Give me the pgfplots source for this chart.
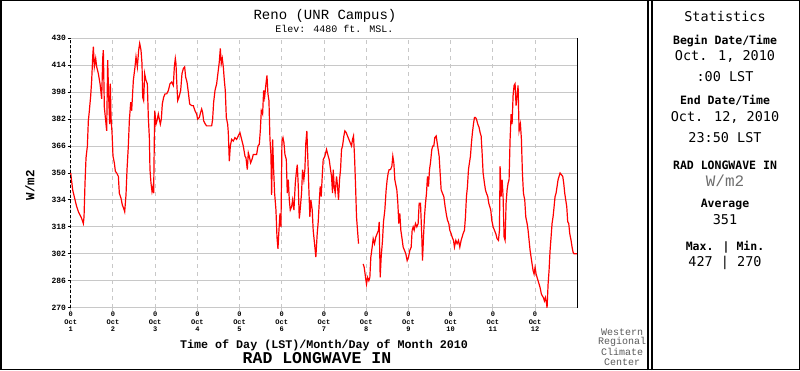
\documentclass[border=0pt]{standalone}
\usepackage{fontspec}
\setmainfont{Liberation Mono}
\setmonofont{Liberation Mono}
\newfontfamily\statfont{DejaVu Sans Mono}
\usepackage{pgfplots}
\pgfplotsset{compat=1.18}
\definecolor{gridgray}{RGB}{200,200,200}
\definecolor{wrcc}{RGB}{90,90,90}
\definecolor{unitgray}{RGB}{110,110,110}

\begin{document}
\begin{tikzpicture}[x=1pt,y=1pt]
\begin{axis}[
  at={(70.7pt,62.3pt)}, anchor=south west, scale only axis,
  width=506.6pt, height=269.4pt,
  xmin=0, xmax=12, ymin=270, ymax=430,
  axis x line*=bottom, axis y line*=left,
  axis line style={draw=none},
  xtick={0,...,11},
  xticklabels={{0\\Oct\\1},{0\\Oct\\2},{0\\Oct\\3},{0\\Oct\\4},{0\\Oct\\5},{0\\Oct\\6},{0\\Oct\\7},{0\\Oct\\8},{0\\Oct\\9},{0\\Oct\\10},{0\\Oct\\11},{0\\Oct\\12}},
  ytick={270,286,...,430},
  xmajorgrids, ymajorgrids,
  x grid style={gridgray, line width=0.9pt, dash pattern=on 4pt off 4pt},
  y grid style={gridgray, line width=1pt},
  major tick length=3pt, tick align=outside,
  xtick style={gridgray, line width=0.9pt},
  ytick style={black, line width=0.9pt},
  xticklabel style={font=\fontsize{7}{7.6}\selectfont\bfseries, align=center, inner sep=1pt},
  yticklabel style={font=\fontsize{8}{8}\selectfont\bfseries, inner sep=1.5pt},
  /pgf/number format/assume math mode=true,
  unbounded coords=jump,
  clip=false,
]
\addplot[red, line width=1.2pt] coordinates {
(0,350)(0.047,340)(0.103,334)(0.142,330)(0.182,327)(0.221,325)(0.260,323)(0.300,320)(0.316,324)(0.339,344)(0.363,359)(0.395,366)(0.418,381)(0.442,387)(0.474,396)(0.497,405)(0.521,419)(0.537,425)(0.560,413)(0.592,418)(0.616,413)(0.655,409)(0.695,403)(0.734,394)(0.758,418)(0.773,423)(0.797,389)(0.829,381)(0.852,375)(0.876,417)(0.900,395)(0.923,379)(0.939,403)(0.955,383)(0.979,374)(1.002,360)(1.034,356)(1.058,351)(1.089,350)(1.129,348)(1.152,338)(1.192,335)(1.223,331)(1.255,329)(1.279,327)(1.310,337)(1.334,352)(1.365,366)(1.389,381)(1.421,392)(1.444,387)(1.484,405)(1.523,413)(1.547,419)(1.579,413)(1.610,423)(1.634,427)(1.665,423)(1.689,415)(1.705,395)(1.728,393)(1.752,409)(1.784,405)(1.815,403)(1.839,383)(1.863,371)(1.878,352)(1.902,344)(1.926,339)(1.949,342)(1.965,338)(1.989,387)(2.021,379)(2.044,381)(2.076,385)(2.099,382)(2.123,379)(2.147,382)(2.170,391)(2.202,395)(2.234,397)(2.273,397)(2.313,399)(2.352,403)(2.391,404)(2.431,402)(2.455,413)(2.478,418)(2.494,415)(2.510,405)(2.534,393)(2.565,395)(2.605,399)(2.636,409)(2.668,412)(2.699,413)(2.723,407)(2.755,404)(2.786,398)(2.818,391)(2.865,390)(2.905,390)(2.944,387)(2.983,385)(3.007,382)(3.047,383)(3.078,386)(3.102,388)(3.125,386)(3.149,381)(3.189,379)(3.220,378)(3.299,378)(3.339,378)(3.362,382)(3.386,392)(3.418,399)(3.457,403)(3.496,411)(3.520,416)(3.544,424)(3.567,415)(3.591,418)(3.615,413)(3.639,405)(3.662,399)(3.686,383)(3.718,379)(3.733,374)(3.757,357)(3.781,366)(3.812,370)(3.852,369)(3.891,371)(3.931,370)(3.970,372)(4.009,374)(4.049,370)(4.088,366)(4.128,360)(4.152,359)(4.183,352)(4.207,362)(4.230,360)(4.262,356)(4.294,358)(4.325,361)(4.365,361)(4.404,361)(4.436,366)(4.467,367)(4.491,375)(4.515,387)(4.546,385)(4.570,399)(4.593,395)(4.625,403)(4.649,408)(4.672,397)(4.696,393)(4.720,370)(4.743,361)(4.759,337)(4.783,370)(4.807,352)(4.830,338)(4.862,328)(4.886,312)(4.909,305)(4.933,316)(4.957,326)(4.980,318)(5.004,369)(5.028,371)(5.051,368)(5.075,361)(5.107,358)(5.130,338)(5.154,346)(5.178,334)(5.201,328)(5.233,330)(5.257,334)(5.288,328)(5.320,344)(5.343,350)(5.367,355)(5.391,342)(5.414,323)
(5.428,326)(5.468,338)(5.492,352)(5.523,346)(5.547,352)(5.570,368)(5.594,375)(5.618,358)(5.642,340)(5.665,324)(5.689,334)(5.721,328)(5.744,316)(5.776,308)(5.807,300)(5.839,314)(5.863,321)(5.886,332)(5.910,342)(5.934,336)(5.958,348)(5.981,358)(6.021,360)(6.060,364)(6.100,360)(6.123,358)(6.155,352)(6.178,348)(6.202,338)(6.218,352)(6.242,342)(6.265,338)(6.297,348)(6.321,342)(6.344,334)(6.368,346)(6.392,352)(6.415,364)(6.439,366)(6.471,372)(6.494,375)(6.526,374)(6.557,372)(6.589,370)(6.620,368)(6.652,366)(6.676,370)(6.699,372)(6.723,360)(6.747,343)(6.770,324)(6.794,316)(6.818,308)
(6.87,nan)
(6.928,296)(6.952,294)(6.984,288)(7.007,284)(7.031,288)(7.062,286)(7.086,288)(7.109,300)(7.141,306)(7.165,311)(7.196,308)(7.228,312)(7.259,314)(7.291,316)(7.307,321)(7.331,288)(7.354,300)(7.386,310)(7.409,321)(7.441,328)(7.472,340)(7.496,346)(7.520,350)(7.543,352)(7.575,352)(7.607,354)(7.630,360)(7.654,356)(7.678,346)(7.701,343)(7.725,340)(7.749,332)(7.772,320)(7.796,326)(7.820,316)(7.843,312)(7.875,306)(7.907,304)(7.938,302)(7.970,298)(8.001,300)(8.033,304)(8.065,306)(8.088,316)(8.112,318)(8.136,316)(8.167,320)(8.199,318)(8.230,320)(8.254,332)(8.286,332)(8.317,312)(8.333,298)(8.357,312)(8.380,324)(8.404,332)(8.428,338)(8.451,348)(8.475,342)(8.499,352)(8.522,356)(8.554,364)(8.578,366)(8.601,366)(8.625,371)(8.657,372)(8.680,368)(8.704,364)(8.727,360)(8.751,350)(8.775,340)(8.806,338)(8.838,336)(8.869,330)(8.901,325)(8.925,322)(8.956,320)(8.980,316)(9.011,314)(9.035,312)(9.067,310)(9.090,306)(9.122,310)(9.153,308)(9.185,310)(9.217,306)(9.248,310)(9.272,312)(9.295,314)(9.327,316)(9.351,324)(9.374,336)(9.398,342)(9.422,352)(9.445,356)(9.469,360)(9.493,368)(9.516,374)(9.540,379)(9.564,383)(9.587,383)(9.611,382)(9.643,379)(9.674,377)(9.698,374)(9.722,372)(9.745,362)(9.769,350)(9.800,344)(9.824,340)(9.848,338)(9.879,336)(9.903,332)(9.927,330)(9.950,328)(9.974,322)(10.006,318)(10.037,316)(10.069,314)(10.100,311)(10.132,310)(10.156,316)(10.171,354)(10.195,336)(10.219,346)(10.242,336)(10.266,312)(10.290,310)(10.313,332)(10.337,340)(10.361,344)(10.384,346)(10.408,370)(10.432,385)(10.455,379)(10.479,396)(10.503,402)(10.526,403)(10.550,390)(10.574,396)(10.597,402)(10.621,375)(10.653,379)(10.676,370)(10.700,350)(10.724,338)(10.755,334)(10.779,324)(10.811,320)(10.834,316)(10.858,310)(10.882,304)(10.905,300)(10.929,296)(10.953,292)(10.976,290)(11.000,294)(11.024,290)(11.047,288)(11.071,286)(11.095,284)(11.118,282)(11.150,278)(11.173,277)(11.197,276)(11.221,274)(11.244,276)(11.268,273)(11.284,270)(11.308,284)(11.331,292)(11.355,304)(11.379,312)(11.402,320)(11.426,324)(11.450,330)(11.473,336)(11.497,338)(11.521,342)(11.544,346)(11.568,348)(11.592,350)(11.623,349)(11.655,348)(11.678,344)(11.702,338)(11.726,334)(11.750,330)(11.773,321)(11.797,320)(11.821,314)(11.852,310)(11.876,306)(11.900,303)(11.923,302)(11.990,302)
};
\draw[black, line width=1pt, dash pattern=on 3pt off 2pt] (rel axis cs:0,0) -- (rel axis cs:0,1);
\draw[black, line width=1.4pt] (rel axis cs:1,0) -- (rel axis cs:1,1);
\end{axis}
% titles
\node[font=\fontsize{14}{14}\selectfont] at (325,354) {Reno (UNR Campus)};
\node[font=\fontsize{10}{10}\selectfont] at (334.5,341) {Elev: 4480 ft. MSL.};
\node[font=\fontsize{11.7}{11.7}\selectfont\bfseries] at (324,25) {Time of Day (LST)/Month/Day of Month 2010};
\node[font=\fontsize{16.5}{16.5}\selectfont\bfseries] at (317,12) {RAD LONGWAVE IN};
\node[font=\fontsize{12.5}{12.5}\selectfont\bfseries, rotate=90] at (30,185) {W/m2};
\node[font=\fontsize{10}{10}\selectfont, text=wrcc] at (622,38) {Western};
\node[font=\fontsize{10}{10}\selectfont, text=wrcc] at (622,28) {Regional};
\node[font=\fontsize{10}{10}\selectfont, text=wrcc] at (622,18) {Climate};
\node[font=\fontsize{10}{10}\selectfont, text=wrcc] at (622,8) {Center};
% stats panel
\begin{scope}[every node/.style={font=\statfont\fontsize{13.5}{13.5}\selectfont}]
\node at (725,354) {Statistics};
\node[font=\statfont\fontsize{11.5}{11.5}\selectfont\bfseries] at (725,329) {Begin Date/Time};
\node at (725,314) {Oct. 1, 2010};
\node at (725,293.3) {:00 LST};
\node[font=\statfont\fontsize{11.5}{11.5}\selectfont\bfseries] at (725,269.3) {End Date/Time};
\node at (725,252.7) {Oct. 12, 2010};
\node at (725,232.7) {23:50 LST};
\node[font=\statfont\fontsize{11.5}{11.5}\selectfont\bfseries] at (725,204.3) {RAD LONGWAVE IN};
\node[font=\fontsize{16}{16}\selectfont, text=unitgray] at (725,189.3) {W/m2};
\node[font=\statfont\fontsize{11.5}{11.5}\selectfont\bfseries] at (725,166) {Average};
\node at (725,150) {351};
\node[font=\statfont\fontsize{11.5}{11.5}\selectfont\bfseries] at (725,123.3) {Max. | Min.};
\node at (725,106.7) {427 | 270};
\end{scope}
% frame
\draw[black, line width=1.5pt] (0.75,0.75) rectangle (799.25,369.25);
\draw[black, line width=1.2pt] (648,0) -- (648,370);
\draw[black, line width=1.2pt] (652,0) -- (652,370);
\pgfresetboundingbox
\useasboundingbox (0,0) rectangle (800,370);
\end{tikzpicture}
\end{document}
